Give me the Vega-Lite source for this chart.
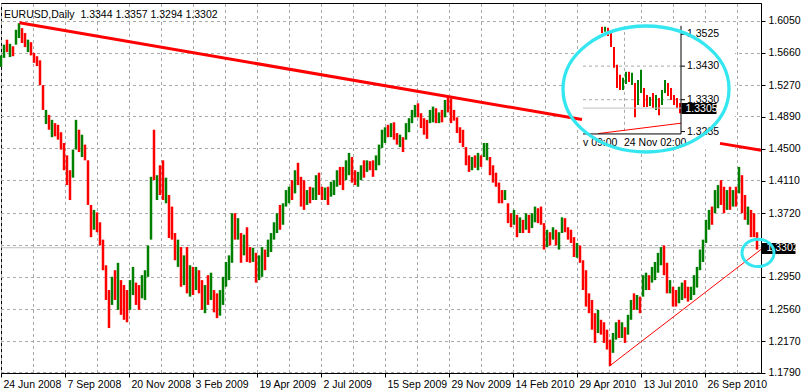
{
"$schema": "https://vega.github.io/schema/vega-lite/v6.json",
"width": 760,
"height": 370,
"autosize": {"type": "none"},
"padding": {"left": 1, "top": 3, "right": 40, "bottom": 19},
"background": "white",
"title": {"text": "EURUSD,Daily\u00a0 1.3344 1.3357 1.3294 1.3302", "anchor": "start", "orient": "top", "frame": "group", "offset": -15, "dx": 3, "dy": 11, "baseline": "alphabetic", "fontSize": 10.5, "fontWeight": "normal", "font": "Liberation Sans Narrow, Liberation Sans, sans-serif", "color": "black"},
"config": {
  "view": {"stroke": "black", "strokeWidth": 1},
  "font": "Liberation Sans Narrow, Liberation Sans, sans-serif",
  "axis": {"labelFont": "Liberation Sans Narrow, Liberation Sans, sans-serif", "labelFontSize": 10.5, "labelColor": "black", "domainColor": "black", "tickColor": "black", "labelOverlap": false}
},
"datasets": {
"bars": [
{"b":0,"h":1.563,"l":1.549,"d":"u"},{"b":3,"h":1.576,"l":1.560,"d":"u"},{"b":6,"h":1.582,"l":1.567,"d":"d"},{"b":9,"h":1.577,"l":1.561,"d":"u"},{"b":12,"h":1.574,"l":1.562,"d":"d"},{"b":15,"h":1.594,"l":1.576,"d":"u"},{"b":18,"h":1.602,"l":1.584,"d":"u"},{"b":21,"h":1.596,"l":1.578,"d":"d"},{"b":24,"h":1.590,"l":1.573,"d":"d"},{"b":27,"h":1.582,"l":1.567,"d":"u"},
{"b":30,"h":1.579,"l":1.563,"d":"d"},{"b":33,"h":1.566,"l":1.554,"d":"d"},{"b":36,"h":1.562,"l":1.550,"d":"d"},{"b":39,"h":1.557,"l":1.527,"d":"d"},{"b":42,"h":1.527,"l":1.497,"d":"d"},{"b":45,"h":1.497,"l":1.480,"d":"u"},{"b":48,"h":1.491,"l":1.473,"d":"d"},{"b":51,"h":1.485,"l":1.464,"d":"u"},{"b":54,"h":1.481,"l":1.465,"d":"d"},{"b":57,"h":1.479,"l":1.461,"d":"d"},
{"b":60,"h":1.470,"l":1.449,"d":"d"},{"b":63,"h":1.457,"l":1.424,"d":"d"},{"b":66,"h":1.442,"l":1.406,"d":"d"},{"b":69,"h":1.424,"l":1.388,"d":"d"},{"b":72,"h":1.449,"l":1.415,"d":"u"},{"b":75,"h":1.485,"l":1.449,"d":"u"},{"b":78,"h":1.473,"l":1.446,"d":"d"},{"b":81,"h":1.467,"l":1.440,"d":"u"},{"b":84,"h":1.455,"l":1.436,"d":"d"},{"b":87,"h":1.436,"l":1.382,"d":"d"},
{"b":90,"h":1.382,"l":1.343,"d":"d"},{"b":93,"h":1.376,"l":1.352,"d":"u"},{"b":96,"h":1.373,"l":1.349,"d":"d"},{"b":99,"h":1.361,"l":1.333,"d":"d"},{"b":102,"h":1.340,"l":1.303,"d":"d"},{"b":105,"h":1.309,"l":1.267,"d":"d"},{"b":108,"h":1.279,"l":1.233,"d":"d"},{"b":111,"h":1.295,"l":1.261,"d":"u"},{"b":114,"h":1.303,"l":1.267,"d":"d"},{"b":117,"h":1.312,"l":1.255,"d":"u"},
{"b":120,"h":1.291,"l":1.249,"d":"d"},{"b":123,"h":1.285,"l":1.243,"d":"d"},{"b":126,"h":1.279,"l":1.240,"d":"d"},{"b":129,"h":1.291,"l":1.255,"d":"u"},{"b":132,"h":1.307,"l":1.273,"d":"u"},{"b":135,"h":1.288,"l":1.261,"d":"d"},{"b":138,"h":1.285,"l":1.255,"d":"d"},{"b":141,"h":1.297,"l":1.269,"d":"u"},{"b":144,"h":1.303,"l":1.267,"d":"u"},{"b":147,"h":1.333,"l":1.295,"d":"u"},
{"b":150,"h":1.416,"l":1.340,"d":"u"},{"b":153,"h":1.473,"l":1.412,"d":"d"},{"b":156,"h":1.418,"l":1.388,"d":"u"},{"b":159,"h":1.430,"l":1.394,"d":"d"},{"b":162,"h":1.436,"l":1.388,"d":"d"},{"b":165,"h":1.415,"l":1.384,"d":"u"},{"b":168,"h":1.394,"l":1.342,"d":"d"},{"b":171,"h":1.380,"l":1.340,"d":"d"},{"b":174,"h":1.348,"l":1.315,"d":"d"},{"b":177,"h":1.340,"l":1.307,"d":"u"},
{"b":180,"h":1.331,"l":1.283,"d":"d"},{"b":183,"h":1.321,"l":1.285,"d":"u"},{"b":186,"h":1.331,"l":1.275,"d":"d"},{"b":189,"h":1.309,"l":1.271,"d":"u"},{"b":192,"h":1.307,"l":1.273,"d":"d"},{"b":195,"h":1.307,"l":1.279,"d":"u"},{"b":198,"h":1.303,"l":1.275,"d":"d"},{"b":201,"h":1.291,"l":1.255,"d":"d"},{"b":204,"h":1.285,"l":1.251,"d":"u"},{"b":207,"h":1.297,"l":1.261,"d":"d"},
{"b":210,"h":1.300,"l":1.267,"d":"u"},{"b":213,"h":1.279,"l":1.252,"d":"d"},{"b":216,"h":1.275,"l":1.245,"d":"d"},{"b":219,"h":1.279,"l":1.248,"d":"u"},{"b":222,"h":1.295,"l":1.261,"d":"u"},{"b":225,"h":1.313,"l":1.283,"d":"u"},{"b":228,"h":1.321,"l":1.291,"d":"u"},{"b":231,"h":1.372,"l":1.312,"d":"u"},{"b":234,"h":1.372,"l":1.340,"d":"d"},{"b":237,"h":1.366,"l":1.340,"d":"u"},
{"b":240,"h":1.348,"l":1.312,"d":"d"},{"b":243,"h":1.346,"l":1.321,"d":"u"},{"b":246,"h":1.355,"l":1.313,"d":"d"},{"b":249,"h":1.331,"l":1.312,"d":"d"},{"b":252,"h":1.330,"l":1.313,"d":"u"},{"b":255,"h":1.324,"l":1.288,"d":"d"},{"b":258,"h":1.321,"l":1.291,"d":"u"},{"b":261,"h":1.331,"l":1.295,"d":"u"},{"b":264,"h":1.328,"l":1.303,"d":"d"},{"b":267,"h":1.340,"l":1.319,"d":"u"},
{"b":270,"h":1.348,"l":1.325,"d":"u"},{"b":273,"h":1.361,"l":1.340,"d":"u"},{"b":276,"h":1.372,"l":1.348,"d":"u"},{"b":279,"h":1.382,"l":1.352,"d":"d"},{"b":282,"h":1.384,"l":1.358,"d":"u"},{"b":285,"h":1.400,"l":1.380,"d":"u"},{"b":288,"h":1.404,"l":1.384,"d":"u"},{"b":291,"h":1.412,"l":1.388,"d":"d"},{"b":294,"h":1.424,"l":1.396,"d":"u"},{"b":297,"h":1.433,"l":1.406,"d":"d"},
{"b":300,"h":1.416,"l":1.380,"d":"d"},{"b":303,"h":1.412,"l":1.376,"d":"d"},{"b":306,"h":1.400,"l":1.382,"d":"u"},{"b":309,"h":1.404,"l":1.384,"d":"d"},{"b":312,"h":1.403,"l":1.388,"d":"u"},{"b":315,"h":1.418,"l":1.388,"d":"u"},{"b":318,"h":1.421,"l":1.394,"d":"d"},{"b":321,"h":1.404,"l":1.388,"d":"d"},{"b":324,"h":1.403,"l":1.388,"d":"u"},{"b":327,"h":1.404,"l":1.382,"d":"d"},
{"b":330,"h":1.410,"l":1.392,"d":"u"},{"b":333,"h":1.412,"l":1.394,"d":"u"},{"b":336,"h":1.424,"l":1.404,"d":"u"},{"b":339,"h":1.428,"l":1.406,"d":"d"},{"b":342,"h":1.428,"l":1.400,"d":"d"},{"b":345,"h":1.436,"l":1.412,"d":"u"},{"b":348,"h":1.445,"l":1.418,"d":"u"},{"b":351,"h":1.440,"l":1.409,"d":"d"},{"b":354,"h":1.424,"l":1.406,"d":"d"},{"b":357,"h":1.422,"l":1.404,"d":"u"},
{"b":360,"h":1.430,"l":1.412,"d":"u"},{"b":363,"h":1.436,"l":1.415,"d":"d"},{"b":366,"h":1.436,"l":1.422,"d":"u"},{"b":369,"h":1.435,"l":1.424,"d":"d"},{"b":372,"h":1.436,"l":1.416,"d":"d"},{"b":375,"h":1.442,"l":1.424,"d":"u"},{"b":378,"h":1.455,"l":1.430,"d":"u"},{"b":381,"h":1.473,"l":1.451,"d":"u"},{"b":384,"h":1.476,"l":1.457,"d":"u"},{"b":387,"h":1.479,"l":1.464,"d":"d"},
{"b":390,"h":1.481,"l":1.464,"d":"u"},{"b":393,"h":1.482,"l":1.461,"d":"d"},{"b":396,"h":1.469,"l":1.455,"d":"d"},{"b":399,"h":1.467,"l":1.452,"d":"u"},{"b":402,"h":1.464,"l":1.446,"d":"d"},{"b":405,"h":1.481,"l":1.461,"d":"u"},{"b":408,"h":1.487,"l":1.470,"d":"u"},{"b":411,"h":1.497,"l":1.481,"d":"u"},{"b":414,"h":1.503,"l":1.488,"d":"u"},{"b":417,"h":1.505,"l":1.488,"d":"d"},
{"b":420,"h":1.493,"l":1.475,"d":"d"},{"b":423,"h":1.487,"l":1.467,"d":"d"},{"b":426,"h":1.485,"l":1.462,"d":"d"},{"b":429,"h":1.497,"l":1.481,"d":"u"},{"b":432,"h":1.501,"l":1.482,"d":"u"},{"b":435,"h":1.499,"l":1.481,"d":"d"},{"b":438,"h":1.494,"l":1.481,"d":"u"},{"b":441,"h":1.497,"l":1.482,"d":"d"},{"b":444,"h":1.509,"l":1.488,"d":"u"},{"b":447,"h":1.513,"l":1.494,"d":"d"},
{"b":450,"h":1.511,"l":1.481,"d":"d"},{"b":453,"h":1.497,"l":1.484,"d":"d"},{"b":456,"h":1.488,"l":1.469,"d":"d"},{"b":459,"h":1.476,"l":1.457,"d":"d"},{"b":462,"h":1.473,"l":1.452,"d":"d"},{"b":465,"h":1.452,"l":1.430,"d":"d"},{"b":468,"h":1.442,"l":1.422,"d":"d"},{"b":471,"h":1.440,"l":1.424,"d":"u"},{"b":474,"h":1.442,"l":1.427,"d":"d"},{"b":477,"h":1.445,"l":1.424,"d":"u"},
{"b":480,"h":1.442,"l":1.428,"d":"d"},{"b":483,"h":1.457,"l":1.440,"d":"u"},{"b":486,"h":1.457,"l":1.436,"d":"u"},{"b":489,"h":1.440,"l":1.418,"d":"d"},{"b":492,"h":1.430,"l":1.409,"d":"d"},{"b":495,"h":1.421,"l":1.404,"d":"d"},{"b":498,"h":1.409,"l":1.384,"d":"d"},{"b":501,"h":1.400,"l":1.384,"d":"d"},{"b":504,"h":1.400,"l":1.388,"d":"u"},{"b":507,"h":1.384,"l":1.360,"d":"d"},
{"b":510,"h":1.372,"l":1.355,"d":"d"},{"b":513,"h":1.376,"l":1.358,"d":"u"},{"b":516,"h":1.370,"l":1.343,"d":"d"},{"b":519,"h":1.367,"l":1.348,"d":"u"},{"b":522,"h":1.364,"l":1.348,"d":"d"},{"b":525,"h":1.372,"l":1.352,"d":"u"},{"b":528,"h":1.370,"l":1.348,"d":"d"},{"b":531,"h":1.372,"l":1.354,"d":"u"},{"b":534,"h":1.380,"l":1.361,"d":"u"},{"b":537,"h":1.378,"l":1.360,"d":"d"},
{"b":540,"h":1.380,"l":1.358,"d":"d"},{"b":543,"h":1.360,"l":1.328,"d":"d"},{"b":546,"h":1.352,"l":1.331,"d":"u"},{"b":549,"h":1.349,"l":1.333,"d":"d"},{"b":552,"h":1.355,"l":1.340,"d":"u"},{"b":555,"h":1.352,"l":1.333,"d":"d"},{"b":558,"h":1.349,"l":1.328,"d":"u"},{"b":561,"h":1.367,"l":1.348,"d":"u"},{"b":564,"h":1.366,"l":1.349,"d":"d"},{"b":567,"h":1.355,"l":1.340,"d":"d"},
{"b":570,"h":1.352,"l":1.336,"d":"d"},{"b":573,"h":1.343,"l":1.319,"d":"d"},{"b":576,"h":1.336,"l":1.318,"d":"u"},{"b":579,"h":1.333,"l":1.312,"d":"d"},{"b":582,"h":1.315,"l":1.279,"d":"d"},{"b":585,"h":1.303,"l":1.259,"d":"d"},{"b":588,"h":1.275,"l":1.251,"d":"d"},{"b":591,"h":1.267,"l":1.231,"d":"d"},{"b":594,"h":1.251,"l":1.215,"d":"d"},{"b":597,"h":1.255,"l":1.227,"d":"u"},
{"b":600,"h":1.243,"l":1.225,"d":"d"},{"b":603,"h":1.240,"l":1.215,"d":"d"},{"b":606,"h":1.231,"l":1.207,"d":"d"},{"b":609,"h":1.219,"l":1.187,"d":"d"},{"b":612,"h":1.227,"l":1.203,"d":"u"},{"b":615,"h":1.240,"l":1.219,"d":"u"},{"b":618,"h":1.243,"l":1.221,"d":"d"},{"b":621,"h":1.240,"l":1.221,"d":"u"},{"b":624,"h":1.234,"l":1.215,"d":"d"},{"b":627,"h":1.249,"l":1.225,"d":"u"},
{"b":630,"h":1.267,"l":1.243,"d":"u"},{"b":633,"h":1.275,"l":1.255,"d":"d"},{"b":636,"h":1.273,"l":1.255,"d":"u"},{"b":639,"h":1.271,"l":1.251,"d":"d"},{"b":642,"h":1.297,"l":1.271,"d":"u"},{"b":645,"h":1.300,"l":1.279,"d":"u"},{"b":648,"h":1.297,"l":1.279,"d":"d"},{"b":651,"h":1.307,"l":1.288,"d":"u"},{"b":654,"h":1.313,"l":1.291,"d":"u"},{"b":657,"h":1.324,"l":1.300,"d":"u"},
{"b":660,"h":1.331,"l":1.309,"d":"u"},{"b":663,"h":1.333,"l":1.297,"d":"d"},{"b":666,"h":1.312,"l":1.275,"d":"d"},{"b":669,"h":1.291,"l":1.275,"d":"u"},{"b":672,"h":1.283,"l":1.259,"d":"d"},{"b":675,"h":1.279,"l":1.259,"d":"d"},{"b":678,"h":1.283,"l":1.263,"d":"u"},{"b":681,"h":1.288,"l":1.267,"d":"u"},{"b":684,"h":1.291,"l":1.269,"d":"d"},{"b":687,"h":1.283,"l":1.265,"d":"d"},
{"b":690,"h":1.283,"l":1.267,"d":"u"},{"b":693,"h":1.297,"l":1.273,"d":"u"},{"b":696,"h":1.307,"l":1.282,"d":"u"},{"b":699,"h":1.328,"l":1.303,"d":"u"},{"b":702,"h":1.340,"l":1.313,"d":"u"},{"b":705,"h":1.364,"l":1.336,"d":"u"},{"b":708,"h":1.376,"l":1.352,"d":"u"},{"b":711,"h":1.380,"l":1.358,"d":"d"},{"b":714,"h":1.400,"l":1.372,"d":"u"},{"b":717,"h":1.406,"l":1.378,"d":"u"},
{"b":720,"h":1.412,"l":1.382,"d":"d"},{"b":723,"h":1.404,"l":1.372,"d":"d"},{"b":726,"h":1.400,"l":1.376,"d":"u"},{"b":729,"h":1.404,"l":1.376,"d":"d"},{"b":732,"h":1.400,"l":1.380,"d":"u"},{"b":735,"h":1.404,"l":1.380,"d":"d"},{"b":738,"h":1.428,"l":1.396,"d":"u"},{"b":741,"h":1.418,"l":1.372,"d":"d"},{"b":744,"h":1.394,"l":1.364,"d":"d"},{"b":747,"h":1.380,"l":1.358,"d":"u"},
{"b":750,"h":1.376,"l":1.343,"d":"d"},{"b":753,"h":1.372,"l":1.343,"d":"d"},{"b":756,"h":1.349,"l":1.328,"d":"d"}
],
"ins": [
{"b":601,"h":1.3547,"l":1.3529,"d":"d"},{"b":604,"h":1.3547,"l":1.3532,"d":"u"},{"b":607,"h":1.3544,"l":1.3520,"d":"d"},{"b":610,"h":1.3532,"l":1.3487,"d":"d"},{"b":613,"h":1.3487,"l":1.3425,"d":"d"},{"b":616,"h":1.3434,"l":1.3365,"d":"d"},{"b":619,"h":1.3404,"l":1.3359,"d":"d"},{"b":622,"h":1.3395,"l":1.3359,"d":"u"},{"b":625,"h":1.3413,"l":1.3377,"d":"u"},{"b":628,"h":1.3413,"l":1.3383,"d":"d"},
{"b":631,"h":1.3410,"l":1.3374,"d":"u"},{"b":634,"h":1.3380,"l":1.3278,"d":"d"},{"b":637,"h":1.3389,"l":1.3314,"d":"u"},{"b":640,"h":1.3419,"l":1.3350,"d":"u"},{"b":643,"h":1.3365,"l":1.3308,"d":"d"},{"b":646,"h":1.3344,"l":1.3308,"d":"d"},{"b":649,"h":1.3338,"l":1.3311,"d":"u"},{"b":652,"h":1.3350,"l":1.3305,"d":"d"},{"b":655,"h":1.3344,"l":1.3299,"d":"u"},{"b":658,"h":1.3335,"l":1.3284,"d":"d"},
{"b":661,"h":1.3359,"l":1.3314,"d":"u"},{"b":664,"h":1.3389,"l":1.3350,"d":"u"},{"b":667,"h":1.3380,"l":1.3341,"d":"d"},{"b":670,"h":1.3365,"l":1.3329,"d":"d"},{"b":673,"h":1.3344,"l":1.3314,"d":"d"},{"b":676,"h":1.3335,"l":1.3305,"d":"d"},{"b":679,"h":1.3320,"l":1.3290,"d":"d"}
],
"inslab": [{"p":1.3525},{"p":1.3430},{"p":1.3330},{"p":1.3235}],
"gx": [{"b":0.5},{"b":32.5},{"b":64.5},{"b":96.5},{"b":128.5},{"b":160.5},{"b":192.5},{"b":224.5},{"b":256.5},{"b":288.5},{"b":320.5},{"b":352.5},{"b":384.5},{"b":416.5},{"b":448.5},{"b":480.5},{"b":512.5},{"b":544.5},{"b":576.5},{"b":608.5},{"b":640.5},{"b":672.5},{"b":704.5},{"b":736.5}],
"gy": [{"p":1.1792},{"p":1.2167},{"p":1.2555},{"p":1.2942},{"p":1.3329},{"p":1.3716},{"p":1.4116},{"p":1.4503},{"p":1.4890},{"p":1.5266},{"p":1.5653},{"p":1.6040}]
},
"layer": [
{
  "data": {"values": [{"p": 1.3302}]},
  "mark": {"type": "rule", "color": "#C0C0C0", "strokeWidth": 1},
  "encoding": {
    "x": {"datum": 0, "type": "quantitative", "scale": {"domain": [0, 760], "nice": false, "zero": false}},
    "x2": {"datum": 760},
    "y": {"field": "p", "type": "quantitative", "scale": {"domain": [1.1786, 1.6264], "nice": false, "zero": false},
      "axis": {"orient": "right", "values": [1.3302], "tickCount": 20, "format": ".4f", "grid": false, "domain": false, "tickSize": 34, "tickWidth": 11, "tickColor": "black", "labelColor": "white", "labelPadding": -29, "labelAlign": "left", "labelBaseline": "middle", "labelFlush": false, "labelOverlap": false, "title": null}}
  }
},
{
  "layer": [
    {
      "data": {"name": "gx"},
      "mark": {"type": "rule", "color": "#A9A9A9", "strokeDash": [3, 3], "strokeWidth": 1},
      "encoding": {
        "x": {"field": "b", "type": "quantitative", "scale": {"domain": [0, 760], "nice": false, "zero": false}},
        "y": {"datum": 1.1786, "type": "quantitative", "scale": {"domain": [1.1786, 1.6264], "nice": false, "zero": false}},
        "y2": {"datum": 1.6264}
      }
    },
    {
      "data": {"name": "gy"},
      "mark": {"type": "rule", "color": "#A9A9A9", "strokeDash": [3, 3], "strokeWidth": 1},
      "encoding": {
        "x": {"datum": 0, "type": "quantitative", "scale": {"domain": [0, 760], "nice": false, "zero": false}},
        "x2": {"datum": 760},
        "y": {"field": "p", "type": "quantitative", "scale": {"domain": [1.1786, 1.6264], "nice": false, "zero": false}}
      }
    },
    {
      "data": {"name": "bars"},
      "mark": {"type": "rule", "strokeWidth": 2.5},
      "encoding": {
        "x": {"field": "b", "type": "quantitative", "scale": {"domain": [0, 760], "nice": false, "zero": false},
          "axis": {"values": [0,64,128,192,256,320,384,448,512,576,640,704], "tickCount": 40,
            "labelExpr": "['24 Jun 2008','7 Sep 2008','20 Nov 2008','3 Feb 2009','19 Apr 2009','2 Jul 2009','15 Sep 2009','29 Nov 2009','14 Feb 2010','29 Apr 2010','13 Jul 2010','26 Sep 2010'][round(datum.value / 64)]",
            "grid": false, "tickSize": 4,
            "labelAlign": "left", "labelBaseline": "top", "labelOffset": 2, "labelPadding": 2, "labelFlush": false, "labelOverlap": false, "title": null}},
        "y": {"field": "l", "type": "quantitative", "scale": {"domain": [1.1786, 1.6264], "nice": false, "zero": false},
          "axis": {"orient": "right", "values": [1.179,1.217,1.256,1.295,1.333,1.372,1.411,1.45,1.489,1.527,1.566,1.605], "tickCount": 30,
            "labelExpr": "datum.value == 1.333 ? '' : format(datum.value, '.4f')",
            "grid": false,
            "tickSize": 4, "labelPadding": 3, "labelAlign": "left", "labelBaseline": "middle", "labelFlush": false, "labelOverlap": false, "title": null}},
        "y2": {"field": "h"},
        "color": {"field": "d", "type": "nominal", "scale": {"domain": ["u", "d"], "range": ["#008000", "#FF0000"]}, "legend": null}
      }
    },
    {
      "data": {"values": [{"b": 609, "p": 1.1875}, {"b": 760, "p": 1.3281}]},
      "mark": {"type": "line", "color": "#FF0000", "strokeWidth": 1},
      "encoding": {
        "x": {"field": "b", "type": "quantitative", "scale": {"domain": [0, 760], "nice": false, "zero": false}},
        "y": {"field": "p", "type": "quantitative", "scale": {"domain": [1.1786, 1.6264], "nice": false, "zero": false}}
      }
    },
    {
      "data": {"values": [{"b": 645, "p": 1.5223}]},
      "mark": {"type": "point", "shape": "M1,0C1,0.4192,0.5523,0.759,0,0.759C-0.5523,0.759,-1,0.4192,-1,0C-1,-0.4192,-0.5523,-0.759,0,-0.759C0.5523,-0.759,1,-0.4192,1,0Z", "size": 27556, "filled": true, "color": "white", "opacity": 1, "strokeWidth": 0},
      "encoding": {
        "x": {"field": "b", "type": "quantitative", "scale": {"domain": [0, 760], "nice": false, "zero": false}},
        "y": {"field": "p", "type": "quantitative", "scale": {"domain": [1.1786, 1.6264], "nice": false, "zero": false}}
      }
    },
    {
      "data": {"values": [{"b": 582, "b2": 734, "p": 1.6022, "p2": 1.449}]},
      "mark": {"type": "rect", "color": "white", "opacity": 1},
      "encoding": {
        "x": {"field": "b", "type": "quantitative", "scale": {"domain": [0, 760], "nice": false, "zero": false}},
        "x2": {"field": "b2"},
        "y": {"field": "p", "type": "quantitative", "scale": {"domain": [1.1786, 1.6264], "nice": false, "zero": false}},
        "y2": {"field": "p2"}
      }
    }
  ]
},
{
  "layer": [
    {
      "data": {"values": [{"b": 582, "b2": 680, "p": 1.343}, {"b": 582, "b2": 680, "p": 1.333}]},
      "mark": {"type": "rule", "color": "#A9A9A9", "strokeDash": [3, 3], "strokeWidth": 1},
      "encoding": {
        "x": {"field": "b", "type": "quantitative", "scale": {"domain": [0, 760], "nice": false, "zero": false}},
        "x2": {"field": "b2"},
        "y": {"field": "p", "type": "quantitative", "scale": {"domain": [1.2516, 1.3618], "nice": false, "zero": false}, "axis": null}
      }
    },
    {
      "data": {"values": [{"b": 623.5, "p": 1.355, "p2": 1.3228}]},
      "mark": {"type": "rule", "color": "#A9A9A9", "strokeDash": [3, 3], "strokeWidth": 1},
      "encoding": {
        "x": {"field": "b", "type": "quantitative", "scale": {"domain": [0, 760], "nice": false, "zero": false}},
        "y": {"field": "p", "type": "quantitative", "scale": {"domain": [1.2516, 1.3618], "nice": false, "zero": false}, "axis": null},
        "y2": {"field": "p2"}
      }
    },
    {
      "data": {"values": [{"b": 597, "p": 1.3229}, {"b": 680, "p": 1.326}]},
      "mark": {"type": "line", "color": "#FF0000", "strokeWidth": 1},
      "encoding": {
        "x": {"field": "b", "type": "quantitative", "scale": {"domain": [0, 760], "nice": false, "zero": false}},
        "y": {"field": "p", "type": "quantitative", "scale": {"domain": [1.2516, 1.3618], "nice": false, "zero": false}, "axis": null}
      }
    },
    {
      "data": {"name": "ins"},
      "mark": {"type": "rule", "strokeWidth": 2},
      "encoding": {
        "x": {"field": "b", "type": "quantitative", "scale": {"domain": [0, 760], "nice": false, "zero": false}},
        "y": {"field": "l", "type": "quantitative", "scale": {"domain": [1.2516, 1.3618], "nice": false, "zero": false}, "axis": null},
        "y2": {"field": "h"},
        "color": {"field": "d", "type": "nominal", "scale": {"domain": ["u", "d"], "range": ["#008000", "#FF0000"]}, "legend": null}
      }
    },
    {
      "data": {"values": [{"b": 680, "p": 1.355, "p2": 1.3228}]},
      "mark": {"type": "rule", "color": "black", "strokeWidth": 1},
      "encoding": {
        "x": {"field": "b", "type": "quantitative", "scale": {"domain": [0, 760], "nice": false, "zero": false}},
        "y": {"field": "p", "type": "quantitative", "scale": {"domain": [1.2516, 1.3618], "nice": false, "zero": false}, "axis": null},
        "y2": {"field": "p2"}
      }
    },
    {
      "data": {"values": [{"b": 582, "b2": 680, "p": 1.3228}]},
      "mark": {"type": "rule", "color": "black", "strokeWidth": 1},
      "encoding": {
        "x": {"field": "b", "type": "quantitative", "scale": {"domain": [0, 760], "nice": false, "zero": false}},
        "x2": {"field": "b2"},
        "y": {"field": "p", "type": "quantitative", "scale": {"domain": [1.2516, 1.3618], "nice": false, "zero": false}, "axis": null}
      }
    },
    {
      "data": {"name": "inslab"},
      "mark": {"type": "rule", "color": "black", "strokeWidth": 1},
      "encoding": {
        "x": {"datum": 680, "type": "quantitative", "scale": {"domain": [0, 760], "nice": false, "zero": false}},
        "x2": {"datum": 684},
        "y": {"field": "p", "type": "quantitative", "scale": {"domain": [1.2516, 1.3618], "nice": false, "zero": false}, "axis": null}
      }
    },
    {
      "data": {"name": "inslab"},
      "mark": {"type": "text", "align": "left", "baseline": "middle", "fontSize": 10.5, "color": "black", "font": "Liberation Sans Narrow, Liberation Sans, sans-serif"},
      "encoding": {
        "x": {"datum": 686, "type": "quantitative", "scale": {"domain": [0, 760], "nice": false, "zero": false}},
        "y": {"field": "p", "type": "quantitative", "scale": {"domain": [1.2516, 1.3618], "nice": false, "zero": false}, "axis": null},
        "text": {"field": "p", "type": "quantitative", "format": ".4f"}
      }
    },
    {
      "data": {"values": [{"b": 582, "p": 1.32, "t": "v 09:00"}, {"b": 623, "p": 1.32, "t": "24 Nov 02:00"}]},
      "mark": {"type": "text", "align": "left", "baseline": "middle", "fontSize": 10.5, "color": "black", "font": "Liberation Sans Narrow, Liberation Sans, sans-serif"},
      "encoding": {
        "x": {"field": "b", "type": "quantitative", "scale": {"domain": [0, 760], "nice": false, "zero": false}},
        "y": {"field": "p", "type": "quantitative", "scale": {"domain": [1.2516, 1.3618], "nice": false, "zero": false}, "axis": null},
        "text": {"field": "t"}
      }
    }
  ]
},
{
  "data": {"values": [{"b": 582, "b2": 680, "p": 1.3305}]},
  "mark": {"type": "rule", "color": "#C0C0C0", "strokeWidth": 1},
  "encoding": {
    "x": {"field": "b", "type": "quantitative", "scale": {"domain": [0, 760], "nice": false, "zero": false}},
    "x2": {"field": "b2"},
    "y": {"field": "p", "type": "quantitative", "scale": {"domain": [1.2516, 1.3618], "nice": false, "zero": false},
      "axis": {"orient": "right", "offset": -80, "values": [1.3305], "tickCount": 20, "format": ".4f", "grid": false, "domain": false, "tickSize": 35, "tickWidth": 11, "tickColor": "black", "labelColor": "white", "labelPadding": -31, "labelAlign": "left", "labelBaseline": "middle", "labelFlush": false, "labelOverlap": false, "zindex": 1, "title": null}}
  }
},
{
  "layer": [
    {
      "data": {"values": [{"b": 18.5, "p": 1.6025, "s": "a"}, {"b": 581, "p": 1.4853, "s": "a"}, {"b": 719, "p": 1.4565, "s": "b"}, {"b": 760, "p": 1.4481, "s": "b"}]},
      "mark": {"type": "line", "color": "#FF0000", "strokeWidth": 3},
      "encoding": {
        "x": {"field": "b", "type": "quantitative", "scale": {"domain": [0, 760], "nice": false, "zero": false}},
        "y": {"field": "p", "type": "quantitative", "scale": {"domain": [1.1786, 1.6264], "nice": false, "zero": false}, "axis": null},
        "detail": {"field": "s"}
      }
    },
    {
      "data": {"values": [{"b": 645, "p": 1.5223}]},
      "mark": {"type": "point", "shape": "M1,0C1,0.4192,0.5523,0.759,0,0.759C-0.5523,0.759,-1,0.4192,-1,0C-1,-0.4192,-0.5523,-0.759,0,-0.759C0.5523,-0.759,1,-0.4192,1,0Z", "size": 27556, "filled": false, "stroke": "#33E6F0", "strokeWidth": 3.3, "opacity": 1},
      "encoding": {
        "x": {"field": "b", "type": "quantitative", "scale": {"domain": [0, 760], "nice": false, "zero": false}},
        "y": {"field": "p", "type": "quantitative", "scale": {"domain": [1.1786, 1.6264], "nice": false, "zero": false}, "axis": null}
      }
    },
    {
      "data": {"values": [{"b": 757, "p": 1.324}]},
      "mark": {"type": "point", "shape": "M1,0C1,0.4728,0.5523,0.856,0,0.856C-0.5523,0.856,-1,0.4728,-1,0C-1,-0.4728,-0.5523,-0.856,0,-0.856C0.5523,-0.856,1,-0.4728,1,0Z", "size": 1024, "filled": false, "stroke": "#33E6F0", "strokeWidth": 3, "opacity": 1},
      "encoding": {
        "x": {"field": "b", "type": "quantitative", "scale": {"domain": [0, 760], "nice": false, "zero": false}},
        "y": {"field": "p", "type": "quantitative", "scale": {"domain": [1.1786, 1.6264], "nice": false, "zero": false}, "axis": null}
      }
    }
  ]
}
],
"resolve": {"scale": {"y": "independent"}}
}
